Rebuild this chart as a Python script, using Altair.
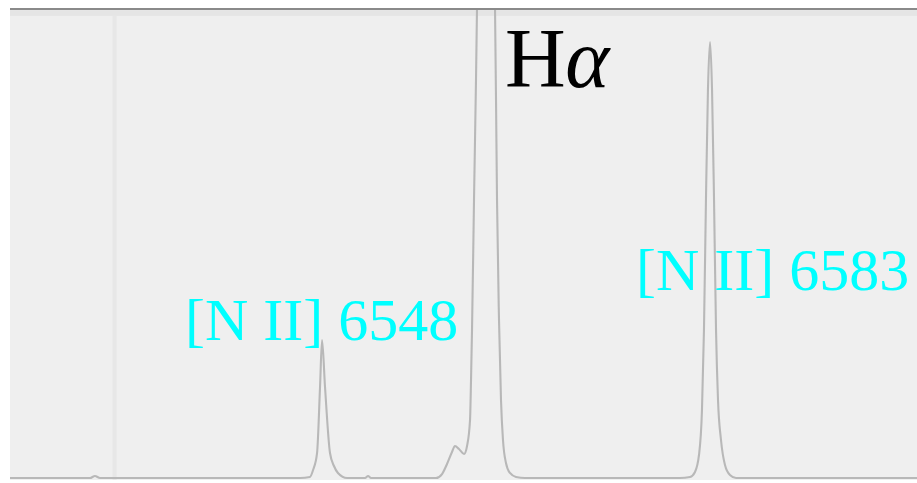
import altair as alt
import pandas as pd

# Spectrum around H-alpha: wavelength (Angstrom) and relative flux
wavelength = [
    6520.00, 6527.23, 6527.68, 6528.14, 6546.22, 6547.12, 6547.40, 6547.76,
    6548.03, 6548.21, 6548.48, 6548.93, 6549.29, 6549.65, 6550.47, 6552.10,
    6552.37, 6552.64, 6558.51, 6559.06, 6559.51, 6559.96, 6560.23, 6560.59,
    6561.05, 6561.32, 6561.59, 6561.68, 6561.77, 6561.95, 6562.13, 6562.22,
    6563.03, 6563.85, 6563.94, 6564.03, 6564.21, 6564.39, 6564.57, 6564.84,
    6565.20, 6565.75, 6566.56, 6580.57, 6581.48, 6581.93, 6582.29, 6582.56,
    6582.74, 6582.92, 6583.10, 6583.29, 6583.47, 6583.65, 6583.83, 6584.01,
    6584.28, 6584.64, 6585.09, 6585.64, 6602.00,
]
flux = [
    0.42, 0.42, 0.85, 0.42, 0.42, 0.64, 2.12, 5.73,
    19.75, 29.72, 19.75, 5.73, 2.97, 1.49, 0.42, 0.42,
    0.85, 0.42, 0.42, 1.27, 3.40, 5.94, 7.22, 6.58,
    5.52, 7.22, 12.74, 21.23, 31.85, 59.45, 84.93, 100.0,
    310.0, 100.0, 80.68, 59.45, 33.97, 16.99, 8.49, 3.61,
    1.49, 0.64, 0.42, 0.42, 0.64, 1.70, 5.31, 14.86,
    31.85, 59.45, 82.80, 93.00, 82.80, 59.45, 31.85, 16.99,
    8.49, 3.18, 1.06, 0.42, 0.42,
]

# Line identifications
nii_names = ["[N II] 6548", "[N II] 6583"]
nii_wave = [6535.82, 6576.60]
nii_flux = [29.72, 40.34]

ha_parts = ["H", "\u03b1"]
ha_wave = [6564.75, 6570.20]
ha_flux = [83.44, 83.44]
ha_style = ["normal", "italic"]

marker_wave = [6529.45]

x_dom = [6520.0, 6602.0]
y_dom = [0.0, 100.0]

spec = pd.DataFrame({"wavelength": wavelength, "flux": flux})
nii = pd.DataFrame({"name": nii_names, "wavelength": nii_wave, "flux": nii_flux})
ha = pd.DataFrame({"part": ha_parts, "wavelength": ha_wave, "flux": ha_flux, "style": ha_style})
marks = pd.DataFrame({"wavelength": marker_wave})

xs = alt.Scale(domain=x_dom, nice=False, zero=False)
ys = alt.Scale(domain=y_dom, nice=False, zero=False)

x_enc = alt.X("wavelength:Q", scale=xs, axis=None)
y_enc = alt.Y("flux:Q", scale=ys, axis=None)

marker = alt.Chart(marks).mark_rule(color="#e7e7e7", strokeWidth=4).encode(x=x_enc)

line = alt.Chart(spec).mark_line(
    color="#b8b8b8", strokeWidth=2.1, clip=True, interpolate="monotone"
).encode(x=x_enc, y=y_enc, order="wavelength:Q")

nii_text = alt.Chart(nii).mark_text(
    font="Liberation Serif", fontSize=60, color="#00ffff",
    align="left", baseline="alphabetic"
).encode(x=x_enc, y=y_enc, text="name:N")

ha_h = alt.Chart(ha[ha["style"] == "normal"]).mark_text(
    font="Liberation Serif", fontSize=84, color="#000000",
    align="left", baseline="alphabetic"
).encode(x=x_enc, y=y_enc, text="part:N")

ha_a = alt.Chart(ha[ha["style"] == "italic"]).mark_text(
    font="Liberation Serif", fontSize=84, fontStyle="italic", color="#000000",
    align="left", baseline="alphabetic"
).encode(x=x_enc, y=y_enc, text="part:N")

top_shade = alt.Chart(spec).mark_rule(color="#e5e5e5", strokeWidth=5).encode(
    x=alt.value(0), x2=alt.value(907), y=alt.value(4)
)
top_edge = alt.Chart(spec).mark_rule(color="#8a8a8a", strokeWidth=2).encode(
    x=alt.value(0), x2=alt.value(907), y=alt.value(0)
)

chart = alt.layer(
    marker, top_shade, line, nii_text, ha_h, ha_a, top_edge
).properties(
    width=907, height=471,
    padding={"left": 10, "top": 9, "right": 0, "bottom": 3},
    autosize=alt.AutoSizeParams(type="none"),
    background="#ffffff",
).configure_view(
    fill="#efefef", stroke=None
)

chart.save("out.html", embed_options={"renderer": "svg", "actions": False})
